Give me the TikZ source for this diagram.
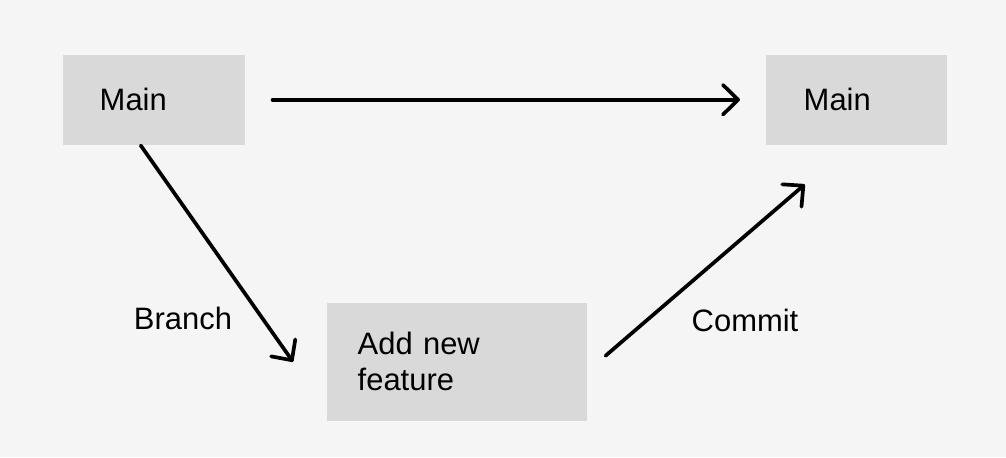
\documentclass[tikz,border=0pt]{standalone}
\usepackage{fontspec}
\setmainfont{Liberation Sans}
\usetikzlibrary{positioning, arrows.meta}
\definecolor{boxgray}{HTML}{D9D9D9}
\definecolor{bggray}{HTML}{F5F5F5}

\begin{document}
\begin{tikzpicture}[
    x=0.01cm, y=-0.01cm,
    box/.style={fill=boxgray, inner ysep=0pt, minimum height=0.9cm, align=left, anchor=north west, font=\fontsize{8.8pt}{10.24pt}\selectfont},
    arrow/.style={-{Straight Barb[length=4.3pt, width=8.4pt, line cap=round, line join=round]}, line width=1.05pt, line cap=round},
    lbl/.style={font=\fontsize{8.8pt}{10.24pt}\selectfont, inner sep=0pt},
]

% Background
\fill[bggray] (0,0) rectangle (1006,457);

% Boxes
\node[box, text width=1.08cm, inner xsep=0.37cm] (mainL) at (62,54) {Main};
\node[box, text width=1.05cm, inner xsep=0.38cm] (mainR) at (765,54) {Main};
\node[box, text width=1.98cm, inner xsep=0.31cm, minimum height=1.18cm] (feat) at (326,302) {Add new\\feature};

% Connectors
\draw[arrow] ([xshift=0.27cm]mainL.east) -- ([xshift=-0.25cm]mainR.west);
\draw[arrow] ([xshift=-0.13cm]mainL.south) -- ([xshift=-0.33cm]feat.west);
\draw[arrow] ([xshift=0.18cm, yshift=0.06cm]feat.east) -- ([xshift=-0.515cm, yshift=-0.39cm]mainR.south);

% Labels
\node[lbl] (brLbl) at (183,318) {Branch};
\node[lbl] (cmLbl) at (745,320) {Commit};

\end{tikzpicture}
\end{document}
